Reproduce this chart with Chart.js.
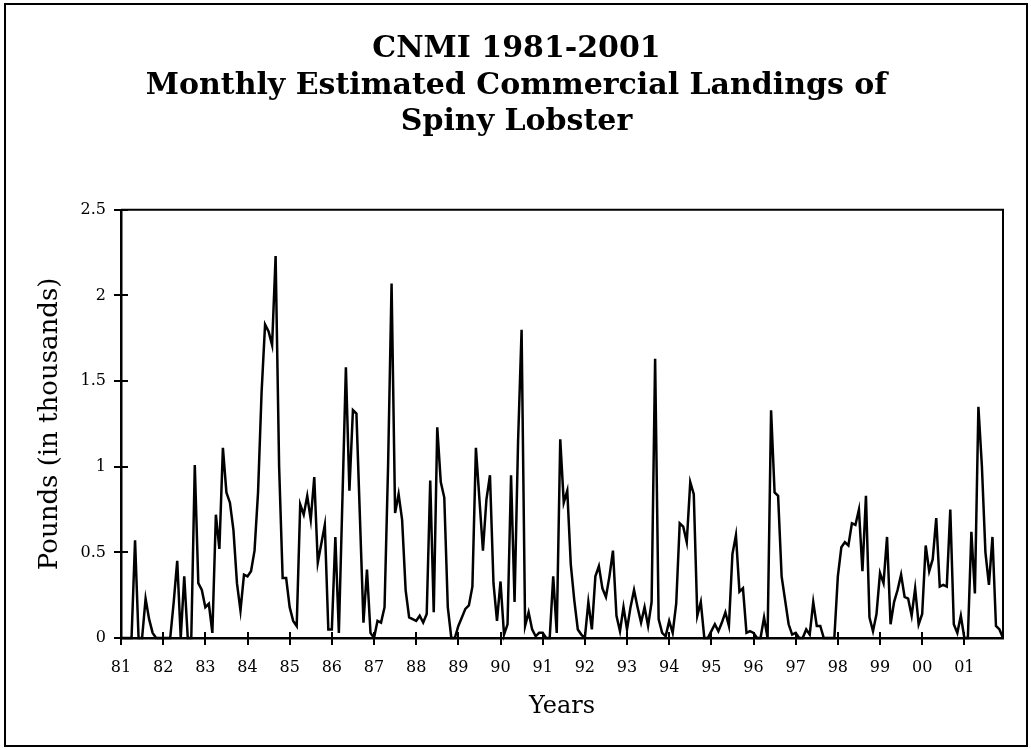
<!DOCTYPE html>
<html>
<head>
<meta charset="utf-8">
<script src="https://cdn.jsdelivr.net/npm/chart.js@4/dist/chart.umd.min.js"></script>
<style>
  html, body { margin: 0; padding: 0; background: #fff; }
  #wrap { width: 1031px; height: 750px; }
</style>
</head>
<body>
<div id="wrap"><canvas id="c" width="1031" height="750"></canvas></div>
<script>
// Year tick labels (one per January)
const yearLabels = ['81','82','83','84','85','86','87','88','89','90','91',
                    '92','93','94','95','96','97','98','99','00','01'];

// Monthly landings, thousands of pounds (Jan..Dec)
const y1981 = [0, 0, 0, 0, 0.57, 0, 0, 0.23, 0.11, 0.03, 0, 0];
const y1982 = [0, 0, 0, 0.21, 0.45, 0, 0.36, 0, 0, 1.01, 0.32, 0.28];
const y1983 = [0.18, 0.2, 0.03, 0.72, 0.52, 1.11, 0.85, 0.79, 0.63, 0.32, 0.16, 0.37];
const y1984 = [0.36, 0.39, 0.51, 0.85, 1.43, 1.83, 1.79, 1.71, 2.23, 1.0, 0.35, 0.35];
const y1985 = [0.18, 0.1, 0.07, 0.78, 0.72, 0.83, 0.69, 0.94, 0.44, 0.55, 0.66, 0.05];
const y1986 = [0.05, 0.59, 0.03, 0.8, 1.58, 0.86, 1.33, 1.31, 0.7, 0.09, 0.4, 0.03];
const y1987 = [0.0, 0.1, 0.09, 0.18, 1.0, 2.07, 0.73, 0.84, 0.69, 0.28, 0.12, 0.11];
const y1988 = [0.1, 0.13, 0.09, 0.14, 0.92, 0.15, 1.23, 0.91, 0.82, 0.18, 0, 0];
const y1989 = [0.07, 0.12, 0.17, 0.19, 0.3, 1.11, 0.81, 0.51, 0.81, 0.95, 0.32, 0.1];
const y1990 = [0.33, 0.02, 0.08, 0.95, 0.21, 1.15, 1.8, 0.07, 0.15, 0.05, 0.01, 0.03];
const y1991 = [0.03, 0, 0, 0.36, 0.03, 1.16, 0.79, 0.86, 0.43, 0.22, 0.05, 0.02];
const y1992 = [0, 0.21, 0.05, 0.36, 0.42, 0.29, 0.24, 0.36, 0.51, 0.13, 0.04, 0.18];
const y1993 = [0.05, 0.18, 0.28, 0.18, 0.09, 0.18, 0.07, 0.21, 1.63, 0.11, 0.03, 0.01];
const y1994 = [0.1, 0.03, 0.2, 0.67, 0.65, 0.56, 0.91, 0.84, 0.13, 0.21, 0, 0];
const y1995 = [0.04, 0.08, 0.04, 0.09, 0.15, 0.07, 0.49, 0.6, 0.27, 0.29, 0.03, 0.04];
const y1996 = [0.03, 0, 0, 0.12, 0, 1.33, 0.85, 0.83, 0.36, 0.22, 0.08, 0.02];
const y1997 = [0.03, 0, 0, 0.05, 0.02, 0.21, 0.07, 0.07, 0, 0, 0, 0];
const y1998 = [0.36, 0.53, 0.56, 0.54, 0.67, 0.66, 0.75, 0.39, 0.83, 0.12, 0.04, 0.14];
const y1999 = [0.38, 0.32, 0.59, 0.08, 0.21, 0.28, 0.37, 0.24, 0.23, 0.13, 0.29, 0.08];
const y2000 = [0.14, 0.54, 0.39, 0.46, 0.7, 0.3, 0.31, 0.3, 0.75, 0.08, 0.03, 0.13];
const y2001 = [0, 0, 0.62, 0.26, 1.35, 1.0, 0.5, 0.31, 0.59, 0.07, 0.05, 0];

const years = [y1981, y1982, y1983, y1984, y1985, y1986, y1987, y1988, y1989, y1990, y1991,
               y1992, y1993, y1994, y1995, y1996, y1997, y1998, y1999, y2000, y2001];

const yTicks = [0, 0.5, 1, 1.5, 2, 2.5];

const titleLines = ['CNMI 1981-2001', 'Monthly Estimated Commercial Landings of', 'Spiny Lobster'];

// Build category labels (label only on January) and the flat series
const categories = [];
const values = [];
years.forEach((arr, yi) => {
  arr.forEach((v, m) => {
    categories.push(m === 0 ? yearLabels[yi] : '');
    values.push(v);
  });
});

const FONT = "'DejaVu Serif', 'Liberation Serif', serif";
Chart.defaults.font.family = FONT;
Chart.defaults.color = '#000';

const decor = {
  id: 'decor',
  beforeDraw(chart) {
    const ctx = chart.ctx;
    ctx.save();
    ctx.fillStyle = '#fff';
    ctx.fillRect(0, 0, chart.width, chart.height);
    ctx.strokeStyle = '#000';
    ctx.lineWidth = 2;
    ctx.strokeRect(5, 4, chart.width - 9, chart.height - 8);
    ctx.restore();
  },
  afterDatasetsDraw(chart) {
    const { ctx, chartArea: a, scales } = chart;
    const xs = scales.x, ys = scales.y;
    ctx.save();
    ctx.strokeStyle = '#000';
    ctx.lineWidth = 2;
    ctx.beginPath();
    ctx.moveTo(a.left, a.top);
    ctx.lineTo(a.right, a.top);
    ctx.lineTo(a.right, a.bottom);
    ctx.stroke();
    ctx.beginPath();
    ys.ticks.forEach((t, k) => {
      const py = Math.round(ys.getPixelForTick(k));
      ctx.moveTo(a.left - 7, py);
      ctx.lineTo(a.left + 7, py);
    });
    xs.ticks.forEach((t, k) => {
      if (xs.getLabelForValue(t.value) !== '') {
        const px = Math.round(xs.getPixelForTick(k));
        ctx.moveTo(px, a.bottom - 6);
        ctx.lineTo(px, a.bottom + 7);
      }
    });
    ctx.stroke();
    ctx.restore();
  }
};

new Chart(document.getElementById('c'), {
  type: 'line',
  data: {
    labels: categories,
    datasets: [{
      data: values,
      borderColor: '#000',
      borderWidth: 2.5,
      pointRadius: 0,
      tension: 0,
      fill: false,
      clip: false
    }]
  },
  options: {
    responsive: false,
    animation: false,
    events: [],
    layout: { padding: { left: 30, right: 28, top: 0, bottom: 0 } },
    plugins: {
      legend: { display: false },
      tooltip: { enabled: false },
      title: {
        display: true,
        text: titleLines,
        color: '#000',
        font: { family: FONT, size: 30, weight: 'bold', lineHeight: 1.22 },
        padding: { top: 31, bottom: 69 }
      }
    },
    scales: {
      x: {
        type: 'category',
        offset: false,
        grid: { display: false, drawTicks: false },
        border: { display: true, color: '#000', width: 2.5 },
        ticks: {
          autoSkip: false,
          maxRotation: 0,
          minRotation: 0,
          padding: 20,
          font: { size: 16 }
        },
        title: {
          display: true,
          text: 'Years',
          font: { size: 24 },
          padding: { top: 0, bottom: 29 }
        },
        afterFit(s) { s.height = 112; }
      },
      y: {
        min: 0,
        max: 2.5,
        afterBuildTicks(s) { s.ticks = yTicks.map(v => ({ value: v })); },
        grid: { display: false, drawTicks: false },
        border: { display: true, color: '#000', width: 2.5 },
        ticks: { padding: 15, font: { size: 16 }, callback: v => String(v) },
        title: {
          display: true,
          text: 'Pounds (in thousands)',
          font: { size: 26 },
          padding: { top: 5, bottom: 0 }
        },
        afterFit(s) { s.width = 91; }
      }
    }
  },
  plugins: [decor]
});
</script>
</body>
</html>
